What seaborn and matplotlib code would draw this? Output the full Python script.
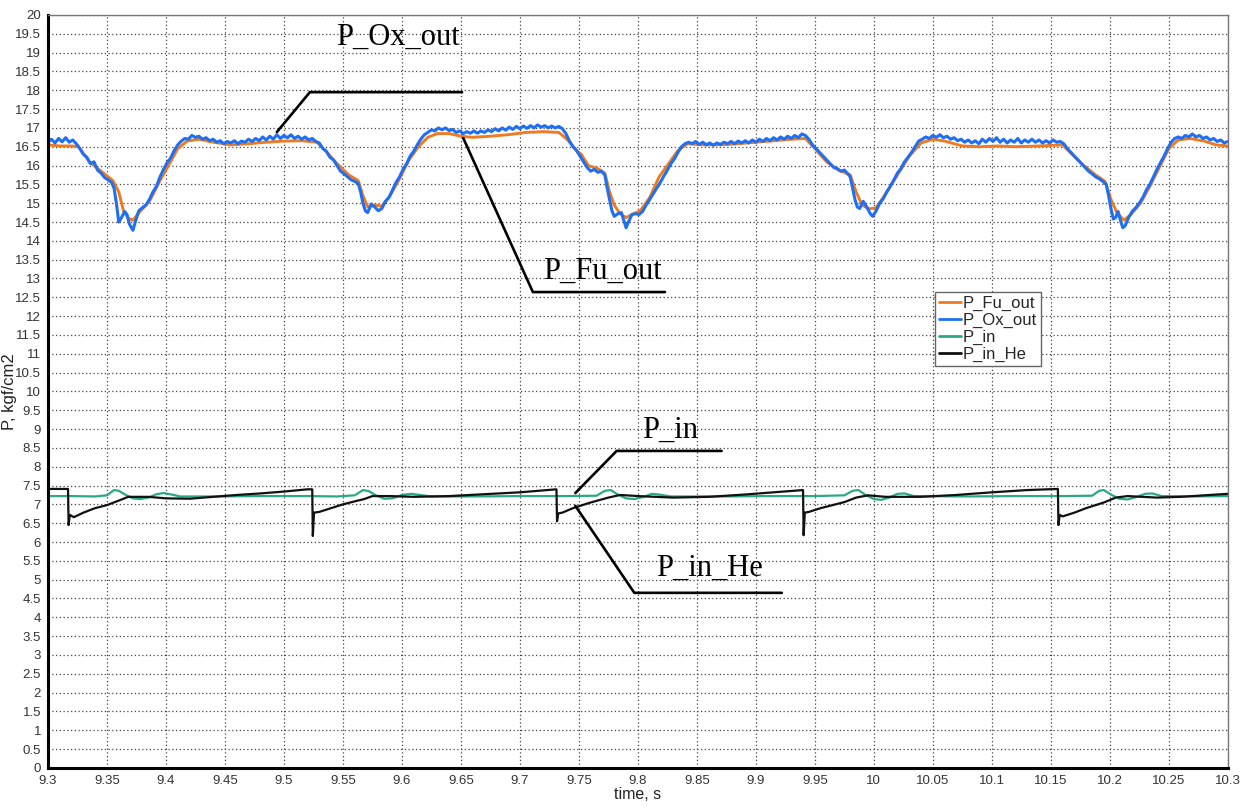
import numpy as np
import pandas as pd
import matplotlib
matplotlib.use("Agg")
import matplotlib.pyplot as plt
from matplotlib.ticker import MultipleLocator, FormatStrFormatter
import seaborn as sns

# ==============================
# DATA
# ==============================

series_names = ["P_Fu_out", "P_Ox_out", "P_in", "P_in_He"]
series_colors = ["#f07a22", "#1e6ff2", "#2ba888", "#111111"]

ox_t = [
    9.300, 9.303, 9.306, 9.309, 9.312, 9.315, 9.318, 9.321, 9.324,
    9.327, 9.330, 9.333, 9.336, 9.339, 9.342, 9.345, 9.348, 9.351, 9.354, 9.356, 9.358,
    9.360, 9.362, 9.365, 9.367, 9.369, 9.372, 9.374, 9.377, 9.380, 9.383, 9.386, 9.389,
    9.392, 9.395, 9.398, 9.401, 9.404, 9.407, 9.410, 9.413, 9.416, 9.419, 9.422, 9.425,
    9.428, 9.431, 9.434, 9.437, 9.440, 9.443, 9.446, 9.449, 9.452, 9.455, 9.458, 9.461,
    9.464, 9.467, 9.470, 9.473, 9.476, 9.479, 9.482, 9.485, 9.488, 9.491, 9.494, 9.497,
    9.500, 9.503, 9.506, 9.509, 9.512, 9.515, 9.518, 9.521, 9.524, 9.527, 9.530,
    9.533, 9.536, 9.539, 9.542, 9.545, 9.548, 9.551, 9.554, 9.557, 9.560, 9.563, 9.565,
    9.567, 9.569, 9.571, 9.574, 9.577, 9.580, 9.583, 9.586, 9.589, 9.592, 9.595, 9.598,
    9.601, 9.604, 9.607, 9.610, 9.613, 9.616, 9.619, 9.622, 9.625, 9.628, 9.631, 9.634,
    9.637, 9.640, 9.643, 9.646, 9.649, 9.652, 9.655, 9.658, 9.661, 9.664, 9.667, 9.670,
    9.673, 9.676, 9.679, 9.682, 9.685, 9.688, 9.691, 9.694, 9.697, 9.700, 9.703, 9.706,
    9.709, 9.712, 9.715, 9.718, 9.721, 9.724, 9.727, 9.730, 9.733, 9.736,
    9.739, 9.742, 9.745, 9.748, 9.751, 9.754, 9.757, 9.760, 9.763, 9.766, 9.769, 9.772,
    9.774, 9.776, 9.778, 9.780, 9.783, 9.786, 9.788, 9.790, 9.792, 9.795, 9.798, 9.801,
    9.804, 9.807, 9.810, 9.813, 9.816, 9.819, 9.822, 9.825, 9.828, 9.831, 9.834, 9.837,
    9.840, 9.843, 9.846, 9.849, 9.852, 9.855, 9.858, 9.861, 9.864, 9.867, 9.870, 9.873,
    9.876, 9.879, 9.882, 9.885, 9.888, 9.891, 9.894, 9.897, 9.900, 9.903, 9.906, 9.909,
    9.912, 9.915, 9.918, 9.921, 9.924, 9.927, 9.930, 9.933, 9.936, 9.939, 9.942, 9.945,
    9.948, 9.951, 9.954, 9.957, 9.960, 9.963, 9.966, 9.969, 9.972, 9.975, 9.978, 9.980,
    9.982, 9.984, 9.986, 9.988, 9.991, 9.994, 9.997, 9.999, 10.002, 10.005, 10.008, 10.011,
    10.014, 10.017, 10.020, 10.023, 10.026, 10.029, 10.032, 10.035, 10.038, 10.041, 10.044,
    10.047, 10.050, 10.053, 10.056, 10.059, 10.062, 10.065, 10.068, 10.071, 10.074, 10.077,
    10.080, 10.083, 10.086, 10.089, 10.092, 10.095, 10.098, 10.101, 10.104, 10.107, 10.110,
    10.113, 10.116, 10.119, 10.122, 10.125, 10.128, 10.131, 10.134, 10.137, 10.140, 10.143,
    10.146, 10.149, 10.152, 10.155, 10.158, 10.161,
    10.164, 10.167, 10.170, 10.173, 10.176, 10.179, 10.182, 10.185, 10.188, 10.191, 10.194,
    10.197, 10.199, 10.201, 10.203, 10.205, 10.207, 10.209, 10.211, 10.213, 10.216, 10.219,
    10.222, 10.225, 10.228, 10.231, 10.234, 10.237, 10.240, 10.243, 10.246, 10.249, 10.252,
    10.255, 10.258, 10.261, 10.264, 10.267, 10.270, 10.273, 10.276, 10.279, 10.282, 10.285,
    10.288, 10.291, 10.294, 10.297, 10.300,
]
ox_p = [
    16.62, 16.70, 16.60, 16.72, 16.63, 16.74, 16.62, 16.68, 16.58,
    16.45, 16.30, 16.22, 16.05, 16.10, 15.88, 15.80, 15.68, 15.62, 15.55, 15.40, 15.00,
    14.50, 14.60, 14.78, 14.70, 14.45, 14.28, 14.50, 14.80, 14.88, 14.95, 15.10, 15.30,
    15.45, 15.70, 15.90, 16.08, 16.20, 16.40, 16.55, 16.65, 16.72, 16.70, 16.80, 16.75,
    16.78, 16.70, 16.74, 16.66, 16.70, 16.62, 16.66, 16.58, 16.64, 16.60, 16.66, 16.58,
    16.65, 16.62, 16.70, 16.64, 16.72, 16.66, 16.76, 16.68, 16.78, 16.70, 16.82, 16.72,
    16.80, 16.74, 16.82, 16.72, 16.78, 16.70, 16.76, 16.68, 16.72, 16.64, 16.60,
    16.45, 16.38, 16.22, 16.15, 16.00, 15.85, 15.78, 15.70, 15.62, 15.58, 15.52, 15.30,
    15.00, 14.80, 14.75, 14.98, 14.90, 14.80, 14.86, 15.05, 15.15, 15.35, 15.55, 15.70,
    15.90, 16.05, 16.25, 16.38, 16.55, 16.70, 16.82, 16.88, 16.95, 16.92, 17.00, 16.95,
    17.00, 16.93, 16.96, 16.88, 16.92, 16.85, 16.90, 16.86, 16.92, 16.86, 16.92, 16.88,
    16.95, 16.90, 16.98, 16.92, 17.00, 16.94, 17.02, 16.96, 17.04, 16.98, 17.05, 16.99,
    17.06, 17.00, 17.08, 17.02, 17.06, 17.00, 17.05, 17.00, 17.04, 16.98,
    16.85, 16.65, 16.50, 16.40, 16.25, 16.10, 15.95, 15.85, 15.90, 15.82, 15.85, 15.75,
    15.40, 15.10, 14.80, 14.65, 14.72, 14.75, 14.55, 14.35, 14.50, 14.70, 14.72, 14.70,
    14.78, 14.95, 15.10, 15.25, 15.40, 15.55, 15.72, 15.88, 16.05, 16.18, 16.35, 16.50,
    16.58, 16.62, 16.58, 16.64, 16.56, 16.62, 16.55, 16.60, 16.54, 16.60, 16.56, 16.62,
    16.58, 16.64, 16.58, 16.65, 16.60, 16.66, 16.60, 16.68, 16.62, 16.70, 16.64, 16.72,
    16.66, 16.74, 16.68, 16.76, 16.70, 16.78, 16.72, 16.80, 16.74, 16.84, 16.80, 16.70,
    16.55, 16.45, 16.35, 16.25, 16.15, 16.05, 15.95, 15.92, 15.85, 15.88, 15.78, 15.70,
    15.40, 15.10, 14.90, 14.86, 15.05, 14.90, 14.72, 14.65, 14.80, 15.00, 15.12, 15.30,
    15.45, 15.62, 15.80, 15.92, 16.10, 16.22, 16.35, 16.50, 16.65, 16.70, 16.76,
    16.72, 16.80, 16.75, 16.82, 16.74, 16.78, 16.70, 16.74, 16.66, 16.70, 16.62,
    16.68, 16.60, 16.66, 16.58, 16.70, 16.62, 16.72, 16.64, 16.74, 16.62, 16.70,
    16.60, 16.68, 16.62, 16.72, 16.60, 16.68, 16.62, 16.70, 16.62, 16.68, 16.60,
    16.66, 16.60, 16.68, 16.62, 16.64, 16.58,
    16.45, 16.35, 16.25, 16.15, 16.05, 15.95, 15.85, 15.78, 15.70, 15.65, 15.58,
    15.50, 15.20, 14.85, 14.58, 14.62, 14.78, 14.55, 14.35, 14.40, 14.62, 14.78,
    14.88, 15.00, 15.15, 15.35, 15.50, 15.70, 15.90, 16.08, 16.25, 16.45, 16.62,
    16.72, 16.76, 16.72, 16.80, 16.76, 16.84, 16.76, 16.80, 16.72, 16.76, 16.68,
    16.72, 16.64, 16.68, 16.60, 16.64,
]

fu_t = [
    9.300, 9.310, 9.320, 9.326, 9.335, 9.345, 9.355, 9.360, 9.364, 9.368, 9.372, 9.378,
    9.386, 9.395, 9.403, 9.410, 9.418, 9.428, 9.440, 9.455, 9.470, 9.485, 9.500, 9.515,
    9.528, 9.535, 9.545, 9.555, 9.563, 9.567, 9.571, 9.578, 9.583, 9.590, 9.598, 9.606,
    9.614, 9.622, 9.630, 9.640, 9.650, 9.660, 9.675, 9.690, 9.705, 9.720, 9.733, 9.740,
    9.748, 9.752, 9.758, 9.766, 9.772, 9.776, 9.780, 9.785, 9.790, 9.795, 9.802, 9.810,
    9.818, 9.826, 9.834, 9.842, 9.855, 9.870, 9.885, 9.900, 9.915, 9.930, 9.942, 9.950,
    9.960, 9.970, 9.980, 9.985, 9.990, 9.996, 10.002, 10.010, 10.020, 10.030, 10.040,
    10.050, 10.060, 10.075, 10.090, 10.105, 10.120, 10.140, 10.160, 10.168, 10.178,
    10.188, 10.196, 10.201, 10.206, 10.212, 10.218, 10.226, 10.234, 10.242, 10.250,
    10.258, 10.268, 10.280, 10.290, 10.300,
]
fu_p = [
    16.55, 16.52, 16.52, 16.50, 16.10, 15.85, 15.60, 15.30, 14.80, 14.60, 14.55, 14.78,
    15.05, 15.60, 16.05, 16.45, 16.65, 16.70, 16.62, 16.55, 16.58, 16.62, 16.65, 16.66,
    16.62, 16.40, 16.05, 15.75, 15.60, 15.20, 14.90, 14.95, 14.92, 15.20, 15.65, 16.15,
    16.50, 16.75, 16.85, 16.85, 16.78, 16.75, 16.78, 16.82, 16.88, 16.90, 16.88, 16.70,
    16.40, 16.30, 16.00, 15.92, 15.80, 15.30, 14.95, 14.72, 14.62, 14.70, 14.80, 15.15,
    15.70, 16.05, 16.40, 16.58, 16.55, 16.55, 16.58, 16.62, 16.66, 16.70, 16.72, 16.45,
    16.10, 15.88, 15.75, 15.30, 14.95, 14.85, 14.88, 15.25, 15.75, 16.25, 16.60,
    16.70, 16.65, 16.52, 16.50, 16.52, 16.50, 16.52, 16.55, 16.30, 16.00,
    15.75, 15.58, 15.10, 14.75, 14.55, 14.70, 15.00, 15.45, 15.95, 16.45,
    16.68, 16.72, 16.65, 16.55, 16.52,
]

pin_t = [
    9.300, 9.320, 9.340, 9.350, 9.356, 9.360, 9.366, 9.372, 9.378, 9.385, 9.392, 9.398,
    9.405, 9.412, 9.440, 9.480, 9.520, 9.545, 9.560, 9.567, 9.572, 9.578, 9.585, 9.592,
    9.600, 9.608, 9.615, 9.625, 9.660, 9.700, 9.740, 9.765, 9.772, 9.777, 9.783, 9.790,
    9.797, 9.805, 9.812, 9.818, 9.828, 9.870, 9.910, 9.950, 9.975, 9.982, 9.987, 9.993,
    10.000, 10.006, 10.013, 10.020, 10.026, 10.034, 10.080, 10.120, 10.160, 10.185,
    10.191, 10.195, 10.201, 10.208, 10.215, 10.222, 10.230, 10.236, 10.244, 10.270, 10.300,
]
pin_p = [
    7.22, 7.22, 7.21, 7.24, 7.38, 7.36, 7.25, 7.16, 7.14, 7.18, 7.27, 7.30,
    7.26, 7.21, 7.21, 7.22, 7.22, 7.21, 7.24, 7.38, 7.35, 7.24, 7.15, 7.16,
    7.25, 7.28, 7.25, 7.21, 7.21, 7.22, 7.22, 7.23, 7.36, 7.38, 7.26, 7.16,
    7.14, 7.20, 7.28, 7.26, 7.21, 7.21, 7.22, 7.22, 7.24, 7.36, 7.38, 7.25,
    7.14, 7.12, 7.18, 7.28, 7.29, 7.22, 7.21, 7.22, 7.22, 7.23,
    7.36, 7.38, 7.26, 7.15, 7.13, 7.19, 7.28, 7.29, 7.22, 7.21, 7.22,
]

he_t = [
    9.300, 9.317, 9.3175, 9.3185, 9.322, 9.330, 9.340, 9.350, 9.360, 9.368, 9.385, 9.400,
    9.420, 9.440, 9.460, 9.480, 9.500, 9.520, 9.524, 9.5245, 9.5255, 9.530, 9.540, 9.550,
    9.560, 9.568, 9.575, 9.590, 9.610, 9.640, 9.670, 9.700, 9.731, 9.7315, 9.7325, 9.736,
    9.745, 9.760, 9.775, 9.785, 9.800, 9.830, 9.860, 9.890, 9.915, 9.940, 9.9405, 9.9415,
    9.945, 9.955, 9.965, 9.975, 9.985, 9.995, 10.010, 10.040, 10.070, 10.100, 10.130,
    10.156, 10.1565, 10.1575, 10.160, 10.170, 10.180, 10.195, 10.205, 10.215, 10.240,
    10.260, 10.280, 10.300,
]
he_p = [
    7.41, 7.41, 6.45, 6.72, 6.66, 6.78, 6.90, 6.98, 7.10, 7.20, 7.20, 7.16,
    7.15, 7.20, 7.25, 7.29, 7.34, 7.40, 7.40, 6.16, 6.78, 6.80, 6.90, 7.00,
    7.08, 7.14, 7.22, 7.22, 7.20, 7.22, 7.27, 7.32, 7.40, 6.55, 6.76, 6.78,
    6.90, 7.05, 7.18, 7.25, 7.22, 7.18, 7.20, 7.26, 7.32, 7.38, 6.18, 6.78,
    6.80, 6.90, 6.98, 7.06, 7.18, 7.24, 7.20, 7.20, 7.25, 7.32, 7.38,
    7.41, 6.45, 6.72, 6.68, 6.78, 6.90, 7.05, 7.18, 7.22, 7.18,
    7.20, 7.24, 7.28,
]

# ==============================
# LONG TABLE FOR SEABORN
# ==============================

frames = []
for name, t, p in zip(series_names, [fu_t, ox_t, pin_t, he_t], [fu_p, ox_p, pin_p, he_p]):
    frames.append(pd.DataFrame({"time": t, "P": p, "series": name}))
df = pd.concat(frames, ignore_index=True)

# ==============================
# FIGURE
# ==============================

sns.set_style("white")
plt.rcParams["font.family"] = ["Liberation Sans", "DejaVu Sans"]

fig = plt.figure(figsize=(12.49, 8.10), dpi=100)
ax = fig.add_axes([0.0384, 0.052, 0.9446, 0.9295])

ax.grid(True, which="major", linestyle=(0, (1, 2)), color="#444444", linewidth=0.9)

palette = dict(zip(series_names, series_colors))
widths = {"P_Fu_out": 2.1, "P_Ox_out": 2.2, "P_in": 1.6, "P_in_He": 1.6}
for name in series_names:
    sns.lineplot(data=df[df["series"] == name], x="time", y="P", color=palette[name],
                 linewidth=widths[name], estimator=None, sort=False, ax=ax, label=name)

ax.set_xlim(9.3, 10.3)
ax.set_ylim(0, 20)
ax.xaxis.set_major_locator(MultipleLocator(0.05))
ax.xaxis.set_minor_locator(MultipleLocator(0.01))
ax.yaxis.set_major_locator(MultipleLocator(0.5))
ax.yaxis.set_minor_locator(MultipleLocator(0.1))
ax.yaxis.set_major_formatter(FormatStrFormatter("%g"))
ax.xaxis.set_major_formatter(FormatStrFormatter("%g"))
ax.tick_params(axis="both", which="major", labelsize=9.5, labelcolor="#333333",
               length=3, width=1, color="#222222", pad=2)
ax.tick_params(axis="both", which="minor", length=2, width=0.8, color="#222222")

for side in ["left", "bottom"]:
    ax.spines[side].set_linewidth(2.2)
    ax.spines[side].set_color("black")
for side in ["top", "right"]:
    ax.spines[side].set_linewidth(1.0)
    ax.spines[side].set_color("#777777")

ax.set_xlabel("time, s", fontsize=11.5, color="#222222", labelpad=0)
ax.set_ylabel("P, kgf/cm2", fontsize=12, color="#222222")
ax.yaxis.set_label_coords(-0.026, 0.5)

leg = ax.legend(loc="upper left", bbox_to_anchor=(0.752, 0.632), fontsize=12,
                frameon=True, fancybox=False, edgecolor="#666666", framealpha=1,
                handlelength=1.3, handletextpad=0.1, labelspacing=0.1,
                borderpad=0.25, borderaxespad=0)
leg.get_frame().set_linewidth(1.0)
for line in leg.get_lines():
    line.set_linewidth(2.0)

# ==============================
# CALLOUTS
# ==============================

callouts = [
    ("P_Ox_out", [(9.494, 16.89), (9.522, 17.95), (9.651, 17.95)], (9.597, 19.40)),
    ("P_Fu_out", [(9.652, 16.73), (9.711, 12.64), (9.823, 12.64)], (9.770, 13.20)),
    ("P_in", [(9.747, 7.30), (9.782, 8.42), (9.871, 8.42)], (9.827, 8.98)),
    ("P_in_He", [(9.747, 6.96), (9.797, 4.65), (9.922, 4.65)], (9.861, 5.30)),
]
for text, path, pos in callouts:
    xs, ys = zip(*path)
    ax.plot(xs, ys, color="black", linewidth=1.9, solid_joinstyle="miter")
    ax.text(pos[0], pos[1], text, fontsize=22, family=["Liberation Serif", "DejaVu Serif"],
            ha="center", va="center", color="black")

fig.savefig("out.png", dpi=100)
plt.close(fig)
